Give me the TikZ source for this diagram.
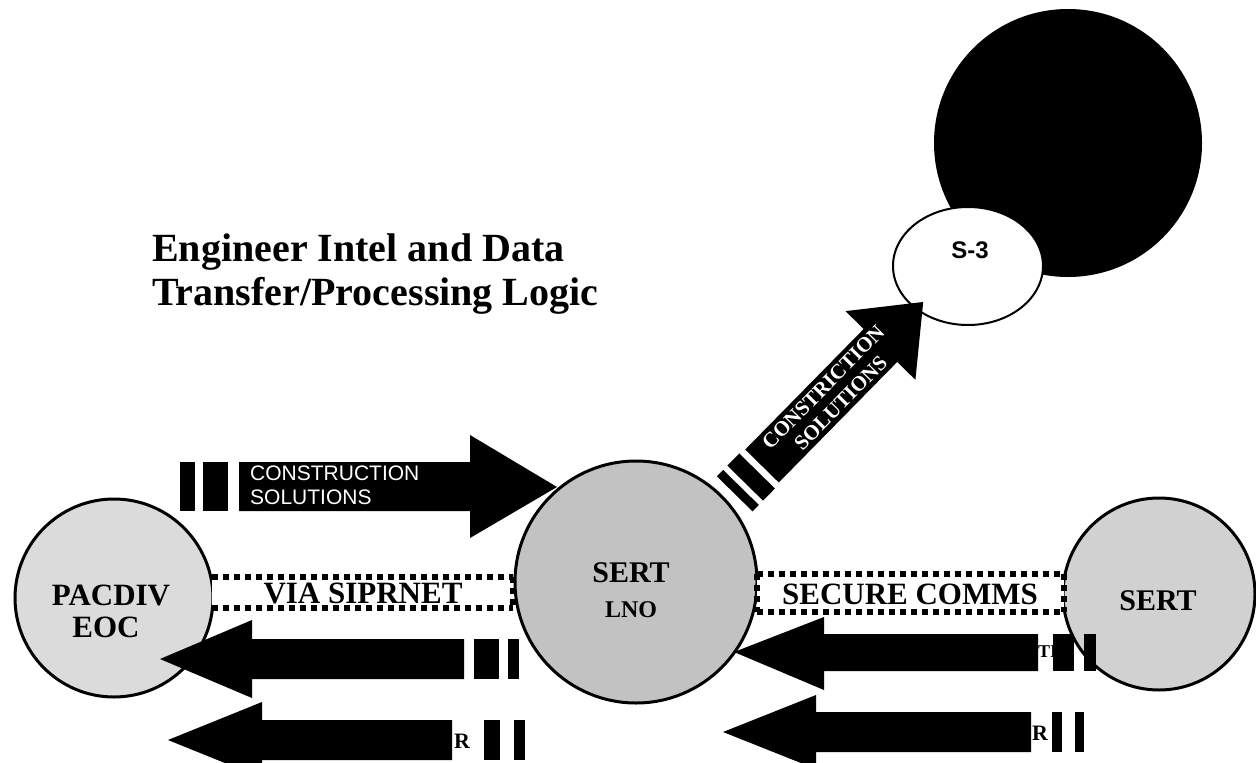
\documentclass[tikz,border=0pt]{standalone}
\usepackage{fontspec}
\setmainfont{Liberation Serif}
\newfontfamily\sansfont{Liberation Sans}
\usetikzlibrary{shapes.geometric}

\begin{document}
\begin{tikzpicture}[x=1pt,y=-1pt,
  hub/.style={circle, draw=black, line width=3pt, inner sep=0pt},
  blk/.style={fill=black, draw=none},
  dotline/.style={line width=5.5pt, dash pattern=on 6pt off 5pt},
  lbl/.style={font=\bfseries\fontsize{31}{33}\selectfont, inner sep=0pt, anchor=base},
  hidden/.style={font=\bfseries\fontsize{22}{24}\selectfont, inner sep=0pt, anchor=base west},
  diagtxt/.style={rotate=45.5, text=white, inner sep=0pt, font=\bfseries\fontsize{21}{23}\selectfont},
]
\useasboundingbox[fill=white] (0,0) rectangle (1256,763);

% title
\node[anchor=base west, inner sep=0pt, font=\bfseries\fontsize{40}{43}\selectfont] (title1) at (152,261) {Engineer Intel and Data};
\node[anchor=base west, inner sep=0pt, font=\bfseries\fontsize{40}{43}\selectfont] (title2) at (152,305) {Transfer/Processing Logic};

% S-3 and the dark disc behind it
\node[circle, fill=black, minimum size=268pt, inner sep=0pt] (dark) at (1068,143) {};
\node[ellipse, draw=black, line width=2pt, fill=white, minimum width=150pt, minimum height=118pt, inner sep=0pt] (s3) at (968,266) {};
\node[anchor=base, inner sep=0pt, font=\sansfont\bfseries\fontsize{24}{26}\selectfont] (s3txt) at (970,258) {S-3};

% the three stations
\node[hub, fill=black!14, minimum size=198pt] (eoc) at (114,598) {};
\node[hub, fill=black!24, minimum size=242pt] (lno) at (636,582) {};
\node[hub, fill=black!18, minimum size=192pt] (sert) at (1159,594) {};

% dotted links between stations
\fill[white] (212,577) rectangle (513,608);
\draw[dotline] (212,577) -- (513,577);
\draw[dotline] (212,608) -- (513,608);
\draw[dotline] (513,577) -- (513,608);
\fill[white] (757,574) rectangle (1064,612);
\draw[dotline] (757,574) -- (1064,574);
\draw[dotline] (757,612) -- (1064,612);
\draw[dotline] (757,574) -- (757,612);
\draw[dotline] (1064,574) -- (1064,612);
\node[lbl] (siprnet) at (363,603) {VIA SIPRNET};
\node[lbl] (comms) at (910,604) {SECURE COMMS};

% construction solutions: EOC -> LNO
\fill[blk] (180,462) rectangle (195,511);
\fill[blk] (203,462) rectangle (228,511);
\fill[blk] (239,462) -- (470,462) -- (470,435) -- (557,487) -- (470,538) -- (470,511) -- (239,511) -- cycle;
\node[anchor=base west, inner sep=0pt, text=white, font=\sansfont\fontsize{21}{23}\selectfont] (cs1) at (250,480) {CONSTRUCTION};
\node[anchor=base west, inner sep=0pt, text=white, font=\sansfont\fontsize{21}{23}\selectfont] (cs2) at (250,504) {SOLUTIONS};

% constriction solutions: LNO -> S-3
\begin{scope}[shift={(762,466)}, rotate=45.5]
  \fill[blk] (-39,-25) rectangle (-30,25);
  \fill[blk] (-24,-25) rectangle (-7,25);
  \fill[blk] (0,-23.5) -- (169,-23.5) -- (169,-49) -- (230,0) -- (169,49) -- (169,23.5) -- (0,23.5) -- cycle;
  \node[diagtxt] (diag1) at (99,-11.5) {CONSTRICTION};
  \node[diagtxt] (diag2) at (100,12) {SOLUTIONS};
\end{scope}

% returns from LNO to EOC
\fill[blk] (160,659) -- (252,620) -- (252,639) -- (464,639) -- (464,679) -- (252,679) -- (252,698) -- cycle;
\fill[blk] (474,639) rectangle (499,679);
\fill[blk] (508,639) rectangle (519,679);
\fill[blk] (168,740) -- (262,702) -- (262,720) -- (452,720) -- (452,760) -- (262,760) -- (262,778) -- cycle;
\node[hidden] (r1) at (454,748) {R};
\fill[blk] (484,720) rectangle (500,760);
\fill[blk] (514,720) rectangle (525,760);

% returns from SERT to LNO
\fill[blk] (734,652) -- (824,617) -- (824,634) -- (1038,634) -- (1038,671) -- (824,671) -- (824,690) -- cycle;
\node[hidden, font=\bfseries\fontsize{18}{20}\selectfont] (ti) at (1038,657) {TI};
\fill[blk] (1053,634) rectangle (1074,671);
\fill[blk] (1084,634) rectangle (1096,671);
\fill[blk] (723,732) -- (816,695) -- (816,712) -- (1031,712) -- (1031,752) -- (816,752) -- (816,769) -- cycle;
\node[hidden] (r2) at (1032,740) {R};
\fill[blk] (1052,712) rectangle (1062,752);
\fill[blk] (1075,712) rectangle (1084,752);

% station names
\node[lbl] (eoc1) at (111,605) {PACDIV};
\node[lbl] (eoc2) at (106,637) {EOC};
\node[lbl, font=\bfseries\fontsize{30}{32}\selectfont] (lno1) at (631,582) {SERT};
\node[lbl, font=\bfseries\fontsize{24}{26}\selectfont] (lno2) at (631,617) {LNO};
\node[lbl, font=\bfseries\fontsize{30}{32}\selectfont] (sert1) at (1158,610) {SERT};
\end{tikzpicture}
\end{document}
